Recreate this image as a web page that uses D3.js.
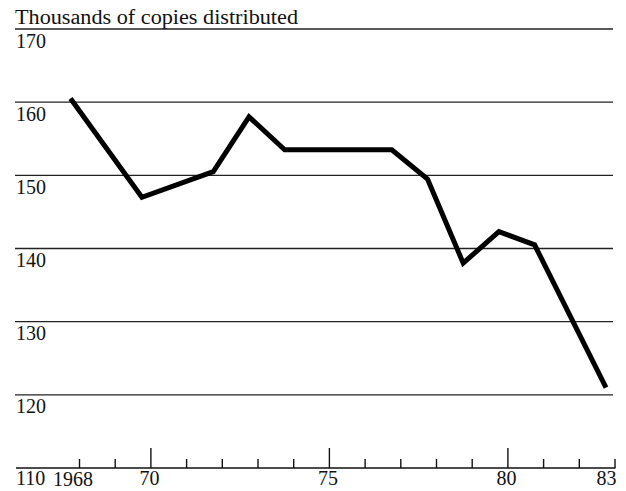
<!DOCTYPE html>
<html>
<head>
<meta charset="utf-8">
<script src="https://cdn.jsdelivr.net/npm/d3@7"></script>
<style>
  body { margin: 0; background: #fff; }
  text { font-family: "Liberation Serif", "Times New Roman", serif; fill: #111; }
</style>
</head>
<body>
<script>
var width = 626,
    height = 491;

// copies distributed, thousands (vertices of the line)
var years  = [1968, 1970, 1972, 1973, 1974, 1977, 1978, 1979, 1980, 1981, 1983];
var copies = [160.5, 147, 150.5, 158, 153.5, 153.5, 149.5, 138, 142.3, 140.5, 121];

var gridValues = [170, 160, 150, 140, 130, 120];
var tickYears  = d3.range(1968, 1984);
var majorYears = [1970, 1975, 1980];
var yearLabels = [[1968, "1968"], [1970, "70"], [1975, "75"], [1980, "80"], [1983, "83"]];

var x = d3.scaleLinear().domain([1968, 1983]).range([79, 614.5]);
var y = d3.scaleLinear().domain([110, 170]).range([468, 29]);

var svg = d3.select("body").append("svg")
    .attr("width", width)
    .attr("height", height);

svg.append("text")
    .attr("x", 15)
    .attr("y", 24)
    .attr("textLength", 283)
    .attr("lengthAdjust", "spacingAndGlyphs")
    .style("font-size", "20px")
    .text("Thousands of copies distributed");

// horizontal rules with their labels underneath
var grid = svg.selectAll("g.grid")
    .data(gridValues).enter().append("g")
    .attr("class", "grid")
    .attr("transform", function(d) { return "translate(0," + y(d) + ")"; });

grid.append("line")
    .attr("x1", 15).attr("x2", 613)
    .attr("stroke", "#222")
    .attr("stroke-width", 1.4);

grid.append("text")
    .attr("x", 16)
    .attr("y", 18.5)
    .style("font-size", "20px")
    .text(function(d) { return d; });

// bottom axis, ticks pointing up
var axis = svg.append("g")
    .attr("transform", "translate(0," + y(110) + ")")
    .call(d3.axisTop(x)
      .tickValues(tickYears)
      .tickSize(9)
      .tickFormat(""));

axis.select(".domain").remove();
axis.selectAll(".tick line")
    .attr("stroke", "#111")
    .attr("stroke-width", 1.4)
    .attr("y2", function(d) { return majorYears.indexOf(d) >= 0 ? -20 : -9; });

axis.append("line")
    .attr("x1", 16).attr("x2", x(1983) + 1)
    .attr("stroke", "#111")
    .attr("stroke-width", 1.5);

svg.append("text")
    .attr("x", 16)
    .attr("y", y(110) + 17)
    .style("font-size", "20px")
    .text("110");

svg.selectAll("text.year")
    .data(yearLabels).enter().append("text")
    .attr("class", "year")
    .attr("x", function(d) { return d[0] === 1983 ? x(d[0]) + 2 : (d[0] === 1968 ? x(d[0]) - 6 : x(d[0]) - 1); })
    .attr("y", function(d) { return y(110) + (d[0] === 1968 ? 18 : 17); })
    .attr("text-anchor", function(d) { return d[0] === 1983 ? "end" : "middle"; })
    .style("font-size", "20px")
    .text(function(d) { return d[1]; });

// the data line sits a little left of the year ticks in the original
var line = d3.line()
    .x(function(d, i) { return x(years[i]); })
    .y(function(d) { return y(d); });

svg.append("path")
    .datum(copies)
    .attr("transform", "translate(-8.5,0)")
    .attr("d", line)
    .attr("fill", "none")
    .attr("stroke", "#000")
    .attr("stroke-width", 5)
    .attr("stroke-linejoin", "miter");
</script>
</body>
</html>
